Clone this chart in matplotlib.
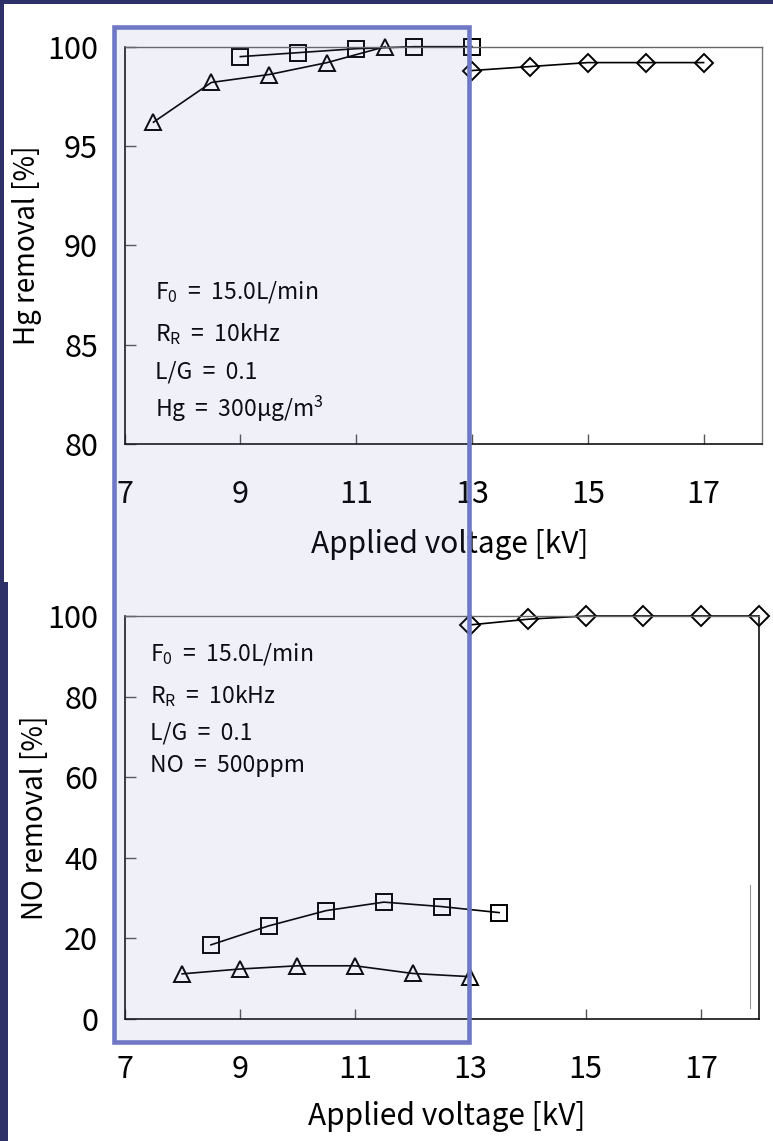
import matplotlib
matplotlib.use("Agg")
import matplotlib.pyplot as plt
from matplotlib.patches import Rectangle
from matplotlib.lines import Line2D

plt.rcParams['font.family'] = ['Noto Sans CJK JP', 'DejaVu Sans']
plt.rcParams['mathtext.fontset'] = 'custom'
plt.rcParams['mathtext.rm'] = 'Noto Sans CJK JP'
plt.rcParams['mathtext.it'] = 'Noto Sans CJK JP'

# Hg removal [%] vs applied voltage [kV]
hg_tri_v = [7.5, 8.5, 9.5, 10.5, 11.5]
hg_tri = [96.2, 98.2, 98.6, 99.2, 100.0]
hg_sq_v = [9, 10, 11, 12, 13]
hg_sq = [99.5, 99.7, 99.9, 100.0, 100.0]
hg_dia_v = [13, 14, 15, 16, 17]
hg_dia = [98.8, 99.0, 99.2, 99.2, 99.2]

# NO removal [%] vs applied voltage [kV]
no_tri_v = [8, 9, 10, 11, 12, 13]
no_tri = [11.2, 12.4, 13.2, 13.2, 11.3, 10.5]
no_sq_v = [8.5, 9.5, 10.5, 11.5, 12.5, 13.5]
no_sq = [18.4, 23.1, 26.9, 29.0, 27.9, 26.4]
no_dia_v = [13, 14, 15, 16, 17, 18]
no_dia = [97.8, 99.2, 100, 100, 100, 100]

xticks = [7, 9, 11, 13, 15, 17]
hg_yticks = [80, 85, 90, 95, 100]
no_yticks = [0, 20, 40, 60, 80, 100]

hg_notes = ["F$_0$  =  15.0L/min", "R$_\\mathrm{R}$  =  10kHz", "L/G  =  0.1", "Hg  =  300μg/m$^3$"]
no_notes = ["F$_0$  =  15.0L/min", "R$_\\mathrm{R}$  =  10kHz", "L/G  =  0.1", "NO  =  500ppm"]

W, H = 773, 1141
navy = '#2E3168'

fig = plt.figure(figsize=(W/100, H/100), dpi=100)
fig.patch.set_facecolor(navy)


def frect(x0, y0, x1, y1, **kw):
    # rectangle given in pixel coords (y down)
    return Rectangle((x0/W, 1 - y1/H), (x1-x0)/W, (y1-y0)/H,
                     transform=fig.transFigure, **kw)


fig.add_artist(frect(4, 4, W, 582, facecolor='white', edgecolor='none', zorder=-2))
fig.add_artist(frect(8, 582, W, H, facecolor='white', edgecolor='none', zorder=-2))

ax1 = fig.add_axes([124.5/W, 1-444/H, 637/W, 397.3/H])
ax2 = fig.add_axes([124.5/W, 1-1019/H, 634/W, 403/H])

mk = dict(color='black', lw=1.2, mfc='none', mec='black', mew=1.4, clip_on=False)

ax1.plot(hg_tri_v, hg_tri, marker='^', ms=12, **mk)
ax1.plot(hg_sq_v, hg_sq, marker='s', ms=11.5, **mk)
ax1.plot(hg_dia_v, hg_dia, marker='D', ms=9.6, **mk)

ax2.plot(no_tri_v, no_tri, marker='^', ms=12, **mk)
ax2.plot(no_sq_v, no_sq, marker='s', ms=11.5, **mk)
ax2.plot(no_dia_v, no_dia, marker='D', ms=10, **mk)

for ax, yt, lim in [(ax1, hg_yticks, (80, 100)), (ax2, no_yticks, (0, 100))]:
    ax.set_xlim(7, 18)
    ax.set_ylim(*lim)
    ax.set_xticks(xticks)
    ax.set_yticks(yt)
    ax.tick_params(axis='y', direction='in', length=8, width=1, color='#555555',
                   pad=19, labelsize=22)
    ax.tick_params(axis='x', direction='in', length=7, width=1, color='#555555',
                   pad=25, labelsize=22)
    ax.set_xlabel('Applied voltage [kV]', fontsize=21.5, va='top')
    for s in ['left', 'bottom']:
        ax.spines[s].set_color('#111111')
        ax.spines[s].set_linewidth(1.2)
    ax.spines['top'].set_color('#666666')
    ax.spines['top'].set_linewidth(1.0)

ax1.spines['right'].set_color('#777777')
ax1.spines['right'].set_linewidth(1.0)
ax2.spines['right'].set_color('#111111')
ax2.spines['right'].set_linewidth(1.2)

ax1.set_ylabel('Hg removal [%]', fontsize=20)
ax2.set_ylabel('NO removal [%]', fontsize=20)
ax1.yaxis.set_label_coords(-0.13, 0.5)
ax2.yaxis.set_label_coords(-0.118, 0.5)
ax1.xaxis.set_label_coords(0.511, -0.215)
ax2.xaxis.set_label_coords(0.508, -0.203)

for txt, yy in zip(hg_notes, [0.367, 0.259, 0.165, 0.069]):
    ax1.text(0.048, yy, txt, transform=ax1.transAxes, fontsize=16.5, va='baseline')
for txt, yy in zip(no_notes, [0.889, 0.785, 0.693, 0.612]):
    ax2.text(0.040, yy, txt, transform=ax2.transAxes, fontsize=16.5, va='baseline')

# faint scan line near the right edge of the lower frame
fig.add_artist(Line2D([750.3/W, 750.3/W], [1-885/H, 1-1008/H], transform=fig.transFigure,
                      color='#999999', lw=0.8))

# highlight box over both charts
fig.add_artist(frect(114, 26.5, 469, 1042, facecolor=(0.43, 0.47, 0.77, 0.11),
                     edgecolor='#6E78C4', linewidth=3.3, zorder=5))

fig.savefig('out.png', dpi=100, facecolor=fig.get_facecolor())
